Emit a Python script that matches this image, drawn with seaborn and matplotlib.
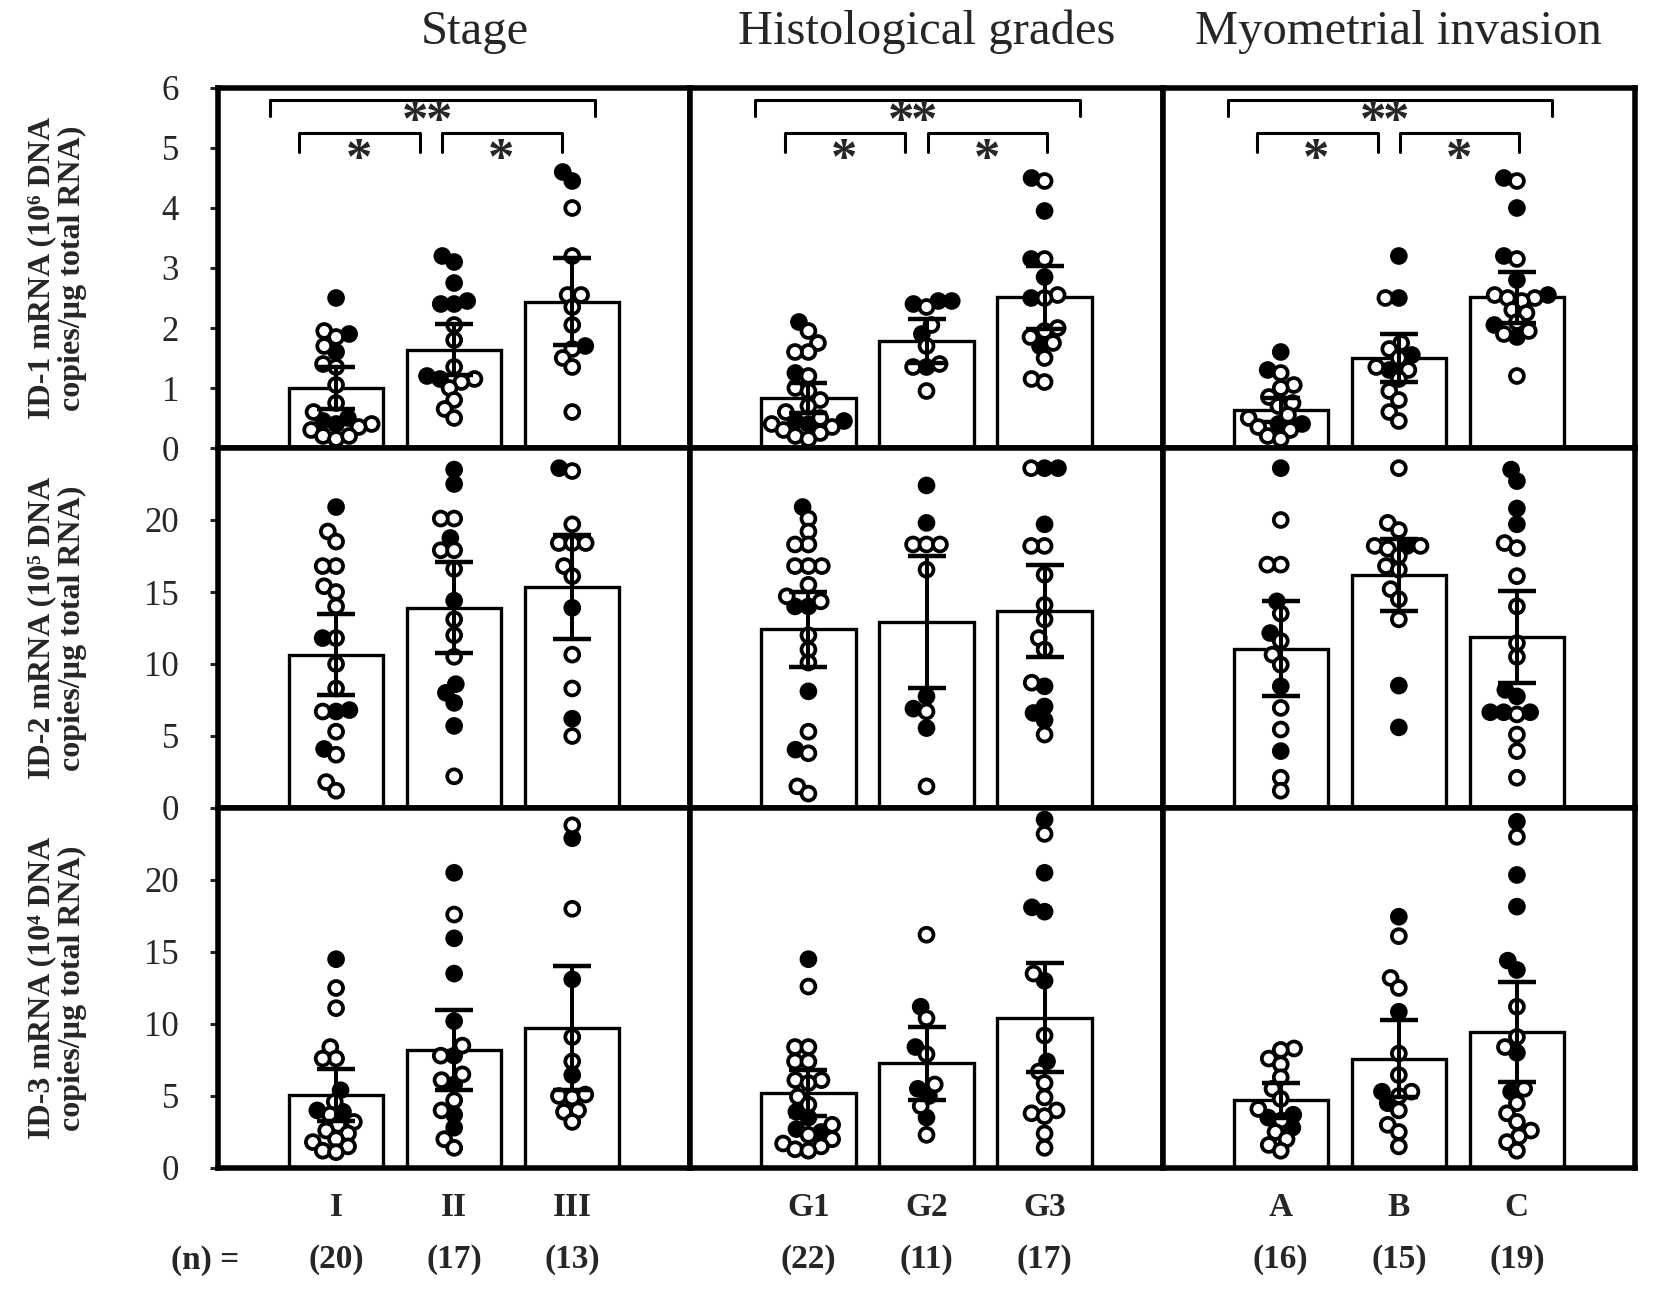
import numpy as np
import pandas as pd
import matplotlib
matplotlib.use("Agg")
import matplotlib.pyplot as plt
import seaborn as sns
from matplotlib.transforms import blended_transform_factory

sns.set_style("white")
plt.rcParams["font.family"] = ["Liberation Serif", "DejaVu Serif"]

# ---- labels ----
col_titles = ["Stage", "Histological grades", "Myometrial invasion"]
cat_labels = [["I", "II", "III"], ["G1", "G2", "G3"], ["A", "B", "C"]]
n_counts = [[20, 17, 13], [22, 11, 17], [16, 15, 19]]
row_labels = ["ID-1 mRNA (10\u2076 DNA\ncopies/\u00b5g total RNA)",
              "ID-2 mRNA (10\u2075 DNA\ncopies/\u00b5g total RNA)",
              "ID-3 mRNA (10\u2074 DNA\ncopies/\u00b5g total RNA)"]

# ---- bar heights (mean) and error (SD), per column: stage, grade, invasion ----
id1_means = [[1.0, 1.64, 2.44], [0.83, 1.78, 2.51], [0.64, 1.5, 2.51]]
id1_sd = [[0.35, 0.43, 0.72], [0.25, 0.37, 0.53], [0.2, 0.4, 0.43]]
id2_means = [[10.65, 13.9, 15.35], [12.4, 12.9, 13.7], [11.05, 16.2, 11.9]]
id2_sd = [[2.8, 3.15, 3.6], [2.6, 4.6, 3.2], [3.3, 2.5, 3.2]]
id3_means = [[5.07, 8.2, 9.7], [5.2, 7.27, 10.45], [4.7, 7.6, 9.45]]
id3_sd = [[1.8, 2.8, 4.3], [1.6, 2.55, 3.8], [1.2, 2.7, 3.45]]

# ---- individual samples: filled (solid) and open circles ----
id1_stage_solid = [[2.5, 1.9, 1.6, 0.5, 0.45, 0.4],
                   [3.2, 3.1, 2.75, 2.45, 2.4, 2.4, 1.2, 1.15],
                   [4.6, 4.45, 1.7]]
id1_stage_open = [[1.95, 1.85, 1.7, 1.4, 1.35, 1.05, 0.75, 0.6, 0.4, 0.35, 0.3, 0.2, 0.15, 0.2],
                  [2.05, 1.8, 1.35, 1.15, 1.1, 1.0, 0.8, 0.65, 0.5],
                  [4.0, 3.2, 2.55, 2.55, 2.35, 2.05, 1.65, 1.5, 1.35, 0.6]]
id1_grade_solid = [[2.1, 1.25, 0.45, 0.45, 0.4],
                   [2.45, 2.45, 2.4, 1.9, 1.35],
                   [4.5, 3.95, 3.15, 2.85, 2.5, 1.7]]
id1_grade_open = [[1.95, 1.75, 1.6, 1.6, 1.2, 1.0, 0.95, 0.8, 0.7, 0.6, 0.5, 0.4, 0.35, 0.3, 0.25, 0.2, 0.15],
                  [2.35, 2.05, 1.7, 1.4, 1.35, 0.95],
                  [4.45, 3.15, 2.55, 2.5, 2.0, 1.95, 1.85, 1.75, 1.5, 1.15, 1.1]]
id1_inv_solid = [[1.6, 1.3, 0.4, 0.4],
                 [3.2, 2.5, 1.55, 1.3],
                 [4.5, 4.0, 3.2, 2.8, 2.55, 2.05, 1.85]]
id1_inv_open = [[1.25, 1.05, 1.0, 0.85, 0.75, 0.7, 0.55, 0.5, 0.35, 0.3, 0.2, 0.15],
                [2.5, 1.75, 1.65, 1.5, 1.35, 1.3, 1.15, 0.95, 0.8, 0.6, 0.45],
                [4.45, 3.15, 2.55, 2.5, 2.45, 2.5, 2.3, 2.25, 2.1, 1.95, 1.9, 1.2]]

id2_stage_solid = [[20.9, 11.8, 6.8, 6.7, 4.1],
                   [23.5, 22.5, 18.75, 14.4, 8.6, 8.0, 7.3, 5.7],
                   [23.6, 13.9, 6.2]]
id2_stage_open = [[19.2, 18.5, 16.8, 16.8, 15.4, 15.0, 14.0, 11.8, 10.0, 8.3, 6.7, 5.3, 3.7, 1.8, 1.2],
                  [20.1, 20.1, 17.9, 17.9, 16.6, 13.1, 12.0, 10.5, 2.2],
                  [23.4, 19.7, 18.4, 18.4, 18.4, 16.8, 16.1, 10.65, 8.3, 5.0]]
id2_grade_solid = [[20.9, 14.0, 14.0, 8.1, 4.05],
                   [22.4, 19.8, 7.75, 6.9, 5.55],
                   [23.6, 23.6, 19.7, 8.45, 7.05, 6.6, 6.1]]
id2_grade_open = [[20.1, 19.2, 18.3, 18.3, 16.8, 16.8, 16.8, 15.5, 14.7, 14.35, 12.0, 11.0, 10.1, 5.3, 3.8, 1.5, 1.0],
                  [18.3, 18.3, 18.3, 16.55, 6.7, 1.5],
                  [23.6, 18.2, 18.2, 16.2, 14.1, 13.1, 11.8, 11.0, 8.7, 5.1]]
id2_inv_solid = [[23.6, 14.35, 12.15, 8.45, 3.95],
                 [18.2, 8.5, 5.6],
                 [23.5, 22.7, 20.8, 19.7, 8.2, 7.75, 6.65, 6.65, 6.65]]
id2_inv_open = [[20.0, 16.9, 16.9, 13.5, 11.6, 10.65, 9.95, 6.95, 5.45, 2.1, 1.2],
                [23.6, 19.8, 19.3, 18.2, 18.2, 18.0, 17.5, 16.8, 16.55, 15.2, 14.5, 13.1],
                [18.4, 18.05, 16.1, 14.0, 11.45, 10.5, 6.5, 5.1, 3.95, 2.1]]

id3_stage_solid = [[14.5, 5.4, 4.0, 3.9],
                   [20.5, 15.95, 13.5, 10.2, 7.8, 5.8, 3.7, 2.8],
                   [22.9, 13.1, 6.45]]
id3_stage_open = [[12.5, 11.1, 8.4, 7.6, 7.6, 4.6, 3.7, 3.2, 3.0, 2.6, 2.4, 2.0, 1.8, 1.5, 1.2, 1.1],
                  [17.6, 8.5, 7.8, 6.5, 6.1, 4.7, 4.0, 2.0, 1.4],
                  [23.8, 18.0, 9.1, 7.4, 5.0, 4.9, 5.1, 4.0, 3.9, 3.2]]
id3_grade_solid = [[14.5, 3.9, 3.5, 2.7, 2.5],
                   [11.2, 8.4, 5.5, 5.0, 3.5],
                   [24.2, 20.5, 18.1, 17.8, 13.0, 7.4]]
id3_grade_open = [[12.6, 8.4, 8.4, 7.4, 7.4, 6.1, 6.1, 5.9, 4.95, 4.4, 3.0, 2.3, 2.0, 1.7, 1.5, 1.3, 1.2],
                  [16.2, 10.4, 7.9, 5.8, 4.3, 2.3],
                  [23.2, 13.5, 9.2, 6.7, 5.9, 4.9, 4.0, 3.8, 3.6, 2.4, 1.4]]
id3_inv_solid = [[3.7, 3.5, 2.8],
                 [17.45, 10.85, 5.3, 4.5],
                 [24.05, 20.35, 18.15, 14.4, 13.75, 8.0, 5.3]]
id3_inv_open = [[8.3, 8.2, 7.6, 7.2, 6.3, 5.5, 4.8, 4.1, 3.3, 2.5, 2.0, 1.6, 1.2],
                [16.1, 13.2, 12.5, 7.95, 6.45, 5.3, 5.0, 4.0, 3.0, 2.5, 1.5],
                [23.0, 11.2, 9.1, 8.4, 5.5, 4.5, 3.8, 3.2, 2.6, 2.2, 1.8, 1.2]]

means = [id1_means, id2_means, id3_means]
sds = [id1_sd, id2_sd, id3_sd]
solid = [[id1_stage_solid, id1_grade_solid, id1_inv_solid],
         [id2_stage_solid, id2_grade_solid, id2_inv_solid],
         [id3_stage_solid, id3_grade_solid, id3_inv_solid]]
hollow = [[id1_stage_open, id1_grade_open, id1_inv_open],
          [id2_stage_open, id2_grade_open, id2_inv_open],
          [id3_stage_open, id3_grade_open, id3_inv_open]]

# long-form table of points
rows = []
for r in range(3):
    for c in range(3):
        for g, lab in enumerate(cat_labels[c]):
            for v in solid[r][c][g]:
                rows.append((r, c, lab, v, "solid"))
            for v in hollow[r][c][g]:
                rows.append((r, c, lab, v, "open"))
pts = pd.DataFrame(rows, columns=["row", "col", "group", "value", "fill"])

W, H = 1654, 1289
fig, axes = plt.subplots(3, 3, figsize=(W / 100, H / 100), dpi=100)
plt.subplots_adjust(left=218 / W, right=1635 / W, top=1 - 88 / H, bottom=1 - 1168 / H,
                    wspace=0, hspace=0)

for r in range(3):
    for c in range(3):
        ax = axes[r][c]
        labels = cat_labels[c]
        bar_df = pd.DataFrame({"group": labels, "mean": means[r][c]})
        sns.barplot(data=bar_df, x="group", y="mean", order=labels, color="white",
                    saturation=1, edgecolor="black", linewidth=2.4, width=0.8,
                    errorbar=None, ax=ax)
        sub = pts[(pts.row == r) & (pts.col == c)]
        # swarm laid out with small markers (enlarged after layout so they overlap)
        sns.swarmplot(data=sub, x="group", y="value", hue="fill", order=labels,
                      hue_order=["solid", "open"],
                      palette={"solid": "black", "open": "white"},
                      edgecolor="black", linewidth=2.7, size=6.5, legend=False, ax=ax)
        for coll in ax.collections:
            coll.set_zorder(3)
        ax.errorbar(range(3), means[r][c], yerr=sds[r][c], fmt="none", ecolor="black",
                    elinewidth=2.9, capsize=14, capthick=3.2, zorder=4)

        ax.set_xlim(-1, 3)
        if r == 0:
            ax.set_ylim(0, 6)
            ax.set_yticks(range(0, 7))
        else:
            ax.set_ylim(0, 25)
            ax.set_yticks(range(0, 21, 5))
        ax.set_xlabel("")
        ax.set_ylabel("")
        ax.tick_params(axis="x", bottom=False, labelbottom=False)
        if c == 0:
            ax.tick_params(axis="y", left=True, direction="out", length=6, width=2.2,
                           pad=22, labelsize=25)
        else:
            ax.tick_params(axis="y", left=False, labelleft=False)
        for sp in ax.spines.values():
            sp.set_linewidth(4)
            sp.set_color("black")

        if r == 2:
            tr = blended_transform_factory(ax.transData, ax.transAxes)
            for i, lab in enumerate(labels):
                ax.text(i, -0.11, lab, transform=tr, ha="center", va="center",
                        fontsize=24, fontweight="bold")
                ax.text(i, -0.255, f"({n_counts[c][i]})", transform=tr, ha="center",
                        va="center", fontsize=24, fontweight="bold")

        if r == 0:
            s = -0.11 if c == 0 else 0.0
            lw = 2.2
            ax.plot([-0.45 + s, -0.45 + s, 2.3 + s, 2.3 + s], [5.53, 5.8, 5.8, 5.53],
                    color="black", lw=lw, zorder=5)
            ax.plot([-0.2 + s, -0.2 + s, 0.82 + s, 0.82 + s], [4.94, 5.25, 5.25, 4.94],
                    color="black", lw=lw, zorder=5)
            ax.plot([1.01 + s, 1.01 + s, 2.02 + s, 2.02 + s], [4.94, 5.25, 5.25, 4.94],
                    color="black", lw=lw, zorder=5)
            for dx in (-0.1, 0.1):
                ax.text(0.88 + s + dx, 5.42, "*", ha="center", va="center", fontsize=38,
                        fontweight="bold", zorder=5)
            ax.text(0.3 + s, 4.78, "*", ha="center", va="center", fontsize=38,
                    fontweight="bold", zorder=5)
            ax.text(1.51 + s, 4.78, "*", ha="center", va="center", fontsize=38,
                    fontweight="bold", zorder=5)

# column titles
for c in range(3):
    pos = axes[0][c].get_position()
    xc = 475 / W if c == 0 else (pos.x0 + pos.x1) / 2
    fig.text(xc, 1 - 32 / H, col_titles[c], ha="center", va="center", fontsize=35)

# row labels
for r in range(3):
    pos = axes[r][0].get_position()
    fig.text(57 / W, (pos.y0 + pos.y1) / 2, row_labels[r], rotation=90, ha="center",
             va="center", multialignment="center", fontsize=23, fontweight="bold",
             linespacing=1.1)

fig.text(205 / W, 1 - 1260 / H, "(n) =", ha="center", va="center", fontsize=24,
         fontweight="bold")

# run the swarm layout once with the small markers, then freeze it and enlarge the dots
fig.canvas.draw()
for ax in axes.flat:
    for coll in ax.collections:
        if "draw" in coll.__dict__:
            del coll.__dict__["draw"]
            coll.set_sizes([10.0 ** 2])

fig.savefig("out.png", dpi=100)
